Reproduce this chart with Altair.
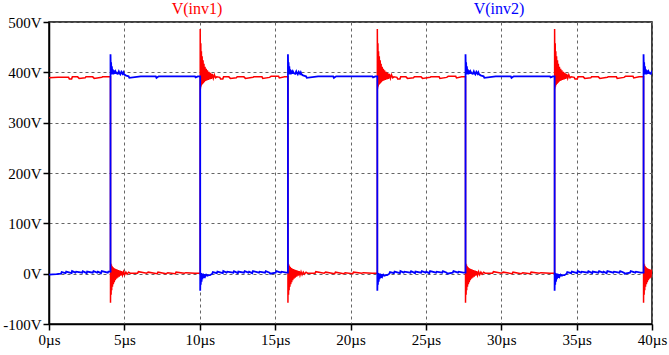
import altair as alt
import pandas as pd

# switching instants (µs): red and blue swap state at each edge
EDGES = [4.08, 10.03, 15.85, 21.78, 27.63, 33.54, 39.44]
T_END = 40.0

# ringing right after each edge: offsets (µs) and volts
RED_RISE_DT = [0.00, 0.02, 0.04, 0.06, 0.08, 0.10, 0.13, 0.16, 0.19, 0.22, 0.25, 0.28, 0.32, 0.36,
               0.40, 0.44, 0.48, 0.53, 0.58, 0.63, 0.68, 0.74, 0.80, 0.87, 0.94, 1.02, 1.10]
RED_RISE_V = [486, 368, 458, 372, 442, 375, 432, 377, 424, 379, 417, 381, 411, 383,
              407, 384, 404, 385, 401, 386, 399, 387, 397, 388, 395, 389, 391]

RED_FALL_DT = [0.00, 0.02, 0.04, 0.06, 0.08, 0.10, 0.13, 0.16, 0.19, 0.22, 0.25, 0.28, 0.32, 0.36,
               0.40, 0.44, 0.48, 0.53, 0.58, 0.63, 0.68, 0.74, 0.80, 0.87, 0.94, 1.02, 1.10, 1.20, 1.30]
RED_FALL_V = [-58, 20, -42, 18, -33, 15, -26, 13, -21, 11, -17, 10, -13, 9,
              -10, 8, -8, 7, -6, 6, -4, 5, -3, 4, -2, 3, -1, 3, 1]

BLUE_RISE_DT = [0.00, 0.02, 0.04, 0.06, 0.09, 0.12, 0.15, 0.19, 0.23, 0.28, 0.33, 0.40, 0.48,
                0.55, 0.60, 0.65, 0.72, 0.80, 0.85, 0.90, 1.00, 1.10]
BLUE_RISE_V = [436, 400, 420, 396, 412, 397, 406, 396, 404, 397, 402, 398, 397,
               402, 398, 396, 401, 397, 400, 396, 394, 393]

BLUE_FALL_DT = [0.00, 0.02, 0.04, 0.06, 0.09, 0.12, 0.15, 0.19, 0.23, 0.28, 0.33, 0.40, 0.48, 0.56, 0.65]
BLUE_FALL_V = [-34, 2, -22, 1, -16, 0, -11, 0, -8, -1, -6, -2, -4, -3, -3]

# small ripple on the flat parts: offsets after the edge (µs) and volts
RED_HIGH_DT = [0.0, 0.6, 1.3, 1.35, 1.5, 1.55, 1.9, 2.0, 2.4, 2.45, 2.9, 3.0, 3.5, 3.55,
               4.1, 4.15, 4.6, 4.7, 5.2, 5.25, 5.6]
RED_HIGH_V = [389, 390, 390, 387, 387, 391, 391, 388, 389, 391, 391, 388, 390, 391,
              391, 388, 390, 392, 392, 389, 391]

RED_LOW_DT = [0.0, 1.3, 1.8, 1.85, 2.4, 2.5, 3.1, 3.15, 3.7, 3.8, 4.3, 4.35, 4.9, 5.0, 5.6]
RED_LOW_V = [0, 1, 1, 4, 1, 3, 0, 3, 0, 2, 0, 3, 1, 2, 1]

BLUE_HIGH_DT = [0.0, 0.9, 1.2, 1.25, 2.0, 3.0, 3.05, 3.2, 4.0, 5.0, 5.6, 5.65, 5.8]
BLUE_HIGH_V = [393, 393, 392, 389, 392, 392, 389, 392, 392, 392, 392, 390, 392]

BLUE_LOW_DT = [0.0, 0.5, 0.8, 0.84, 1.1, 1.14, 1.5, 1.53, 1.75, 1.8, 2.2, 2.24, 2.5, 2.53,
               2.9, 2.95, 3.2, 3.24, 3.45, 3.5, 3.9, 3.94, 4.3, 4.35, 4.6, 4.64, 5.0, 5.05,
               5.35, 5.4, 5.7]
BLUE_LOW_V = [-2, -1, 0, 3, 1, 4, 1, 5, 2, 4, 2, 5, 1, 4,
              2, 5, 2, 4, 1, 5, 2, 4, 2, 5, 2, 0, 2, 5, 2, 4, 2]

SERIES = ["V(inv1)", "V(inv2)"]
COLORS = ["#ff0000", "#0000ff"]


def build(name, high_first, rise, fall, hi, lo):
    rows = []
    starts = [0.0] + EDGES
    ends = EDGES + [T_END]
    for k, (s, e) in enumerate(zip(starts, ends)):
        high = (k % 2 == 0) == high_first
        if k == 0:
            rdt, rv = [], []
        else:
            rdt, rv = rise if high else fall
        pdt, pv = hi if high else lo
        ring_end = rdt[-1] if rdt else -1.0
        seg = []
        for dt, v in zip(rdt, rv):
            if s + dt < e:
                seg.append((s + dt, v))
        for dt, v in zip(pdt, pv):
            if dt > ring_end and s + dt < e - 0.01:
                seg.append((s + dt, v))
        seg.append((e, seg[-1][1] if seg else pv[0]))
        rows.extend(seg)
    return pd.DataFrame({"t": [r[0] for r in rows], "v": [r[1] for r in rows],
                         "series": name, "i": list(range(len(rows)))})


red = build(SERIES[0], True, (RED_RISE_DT, RED_RISE_V), (RED_FALL_DT, RED_FALL_V),
            (RED_HIGH_DT, RED_HIGH_V), (RED_LOW_DT, RED_LOW_V))
blue = build(SERIES[1], False, (BLUE_RISE_DT, BLUE_RISE_V), (BLUE_FALL_DT, BLUE_FALL_V),
             (BLUE_HIGH_DT, BLUE_HIGH_V), (BLUE_LOW_DT, BLUE_LOW_V))

FONT = "Liberation Serif"
x_enc = alt.X("t:Q", scale=alt.Scale(domain=[0, 40], nice=False, zero=False),
              axis=alt.Axis(values=list(range(0, 41, 5)), labelExpr="datum.value + 'µs'",
                            title=None, labelFlush=False))
y_enc = alt.Y("v:Q", scale=alt.Scale(domain=[-100, 500], nice=False),
              axis=alt.Axis(values=list(range(-100, 501, 100)), labelExpr="datum.value + 'V'",
                            title=None, labelFlush=False))


def line(df, color, width):
    return alt.Chart(df).mark_line(color=color, strokeWidth=width, clip=True).encode(
        x=x_enc, y=y_enc, order="i:Q")


def title(text, color, xpos):
    return alt.Chart(pd.DataFrame({"label": [text]})).mark_text(
        font=FONT, fontSize=16, color=color, baseline="middle", align="center").encode(
        text="label:N", x=alt.value(xpos), y=alt.value(-13))


chart = alt.layer(
    line(red, COLORS[0], 1.5),
    line(blue, COLORS[1], 1.8),
    title(SERIES[0], COLORS[0], 148),
    title(SERIES[1], COLORS[1], 450),
).properties(
    width=603, height=302,
    autosize=alt.AutoSizeParams(type="none"),
    padding={"left": 49, "top": 22, "right": 17, "bottom": 31},
    background="white",
).configure_view(
    stroke="black", strokeWidth=1.5
).configure_axis(
    labelFont=FONT, labelFontSize=15, labelColor="black",
    domainColor="black", domainWidth=1.5,
    tickColor="black", tickSize=6, tickWidth=1.5,
    grid=True, gridColor="#666666", gridDash=[3, 3], gridWidth=1,
    labelPadding=2,
)

chart.save("out.html", embed_options={"renderer": "svg", "actions": False})
